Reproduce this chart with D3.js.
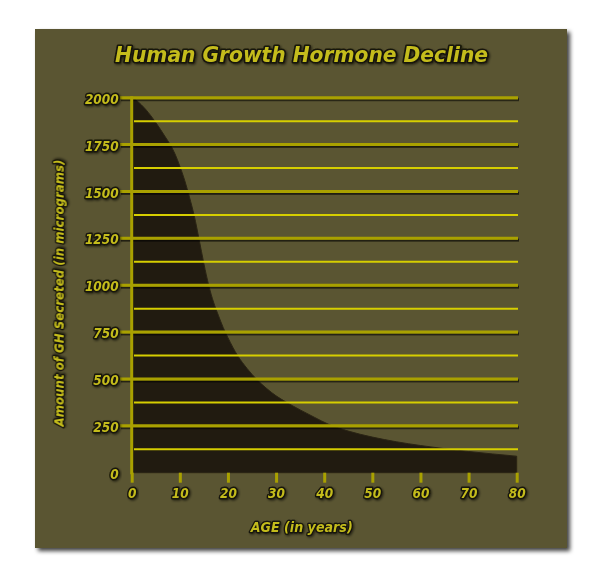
<!DOCTYPE html>
<html><head><meta charset="utf-8">
<script src="https://cdn.jsdelivr.net/npm/d3@7"></script>
<style>
html,body{margin:0;padding:0;background:#fff;}
svg{display:block;}
</style></head>
<body>
<script>
// ---- data ----
const ages   = [0, 1, 2, 3, 4, 5, 6, 7, 8, 9, 10, 11, 12, 13, 14, 15, 16, 17, 18, 19, 20, 22, 24, 26, 28, 30, 32, 35, 38, 41, 45, 50, 55, 60, 65, 70, 75, 80];
const ghVals = [2000, 1985, 1962, 1935, 1903, 1868, 1830, 1790, 1750, 1700, 1635, 1560, 1470, 1370, 1245, 1115, 1000, 910, 840, 775, 720, 625, 555, 497, 450, 410, 378, 335, 295, 257, 222, 190, 165, 145, 128, 113, 100, 88];
const xTicks = [0, 10, 20, 30, 40, 50, 60, 70, 80];
const yMajorTicks = [0, 250, 500, 750, 1000, 1250, 1500, 1750, 2000];
const yMinorTicks = [125, 375, 625, 875, 1125, 1375, 1625, 1875];
const titleText = "Human Growth Hormone Decline";
const xTitle = "AGE (in years)";
const yTitle = "Amount of GH Secreted (in micrograms)";

const W = 600, H = 581;
const svg = d3.select("body").append("svg").attr("width", W).attr("height", H);
const defs = svg.append("defs");
const ps = defs.append("filter").attr("id","panelShadow").attr("x","-5%").attr("y","-5%").attr("width","115%").attr("height","115%");
ps.append("feDropShadow").attr("dx",3).attr("dy",3).attr("stdDeviation",2).attr("flood-color","#000").attr("flood-opacity",0.75);
const ts = defs.append("filter").attr("id","txtShadow").attr("x","-10%").attr("y","-30%").attr("width","130%").attr("height","170%");
ts.append("feDropShadow").attr("dx",1.2).attr("dy",1.2).attr("stdDeviation",0.8).attr("flood-color","#000").attr("flood-opacity",0.6);
const ls = defs.append("filter").attr("id","lineShadow").attr("x","-5%").attr("y","-200%").attr("width","110%").attr("height","500%");
ls.append("feDropShadow").attr("dx",1).attr("dy",1.8).attr("stdDeviation",0.7).attr("flood-color","#000").attr("flood-opacity",0.65);

// panel
svg.append("rect").attr("x",35).attr("y",29).attr("width",532).attr("height",519)
  .attr("fill","#5a5532").attr("filter","url(#panelShadow)");

const x = d3.scaleLinear().domain([0,80]).range([131.7,516.7]);
const y = d3.scaleLinear().domain([0,2000]).range([472.7,97.7]);

const data = ages.map((a,i)=>({a, v: ghVals[i]}));

// area
const area = d3.area().x(d=>x(d.a)).y0(y(0)).y1(d=>y(d.v)).curve(d3.curveMonotoneX);
svg.append("path").datum(data).attr("d",area).attr("fill","#211b10")
  .attr("stroke","#2a2414").attr("stroke-width",1);

const font = "'DejaVu Sans Condensed','DejaVu Sans',sans-serif";
const txtFill = "#c4bc1c";
const txtStroke = "#17140a";

// minor gridlines
svg.append("g").selectAll("line").data(yMinorTicks).join("line")
  .attr("x1",134).attr("x2",518).attr("y1",d=>y(d)).attr("y2",d=>y(d))
  .attr("stroke","#d6ce00").attr("stroke-width",2);

// major gridlines (with tick stubs to the left)
svg.append("g").attr("filter","url(#lineShadow)").selectAll("line").data(yMajorTicks.filter(d=>d>0)).join("line")
  .attr("x1",120).attr("x2",518).attr("y1",d=>y(d)).attr("y2",d=>y(d))
  .attr("stroke","#a9a100").attr("stroke-width",3);

// x axis via d3 axis
const xAxis = d3.axisBottom(x).tickValues(xTicks).tickSize(10).tickSizeOuter(0).tickFormat(d3.format("d"));
const gx = svg.append("g").attr("transform",`translate(0,${y(0)})`).call(xAxis);
gx.select(".domain").remove();
gx.selectAll(".tick line").attr("stroke","#a9a100").attr("stroke-width",3);
gx.selectAll(".tick text").attr("y",25).attr("dy",0)
  .attr("font-family",font).attr("font-weight","bold").attr("font-style","italic").attr("font-size",13.5)
  .attr("fill",txtFill).attr("stroke",txtStroke).attr("stroke-width",2.8).attr("paint-order","stroke")
  .attr("stroke-linejoin","round").attr("filter","url(#txtShadow)");

// y axis via d3 axis
const yAxis = d3.axisLeft(y).tickValues(yMajorTicks).tickSize(0).tickPadding(12).tickFormat(d3.format("d"));
const gy = svg.append("g").attr("transform",`translate(${x(0)},0)`).call(yAxis);
gy.select(".domain").remove();
gy.selectAll(".tick text").attr("dy","0.42em").attr("x",-13)
  .attr("font-family",font).attr("font-weight","bold").attr("font-style","italic").attr("font-size",13.5)
  .attr("fill",txtFill).attr("stroke",txtStroke).attr("stroke-width",2.8).attr("paint-order","stroke")
  .attr("stroke-linejoin","round").attr("filter","url(#txtShadow)");

// axis lines
svg.append("line").attr("x1",120).attr("x2",518).attr("y1",y(0)).attr("y2",y(0))
  .attr("stroke","#a9a100").attr("stroke-width",3).attr("filter","url(#lineShadow)");
svg.append("line").attr("x1",x(0)).attr("x2",x(0)).attr("y1",y(2000)-1.5).attr("y2",y(0)+1.5)
  .attr("stroke","#a9a100").attr("stroke-width",3);

function styledText(sel){
  return sel.attr("font-family",font).attr("font-weight","bold").attr("font-style","italic")
    .attr("fill",txtFill).attr("stroke",txtStroke).attr("paint-order","stroke")
    .attr("stroke-linejoin","round").attr("filter","url(#txtShadow)");
}

// title
styledText(svg.append("text").attr("x",301.5).attr("y",61.5).attr("text-anchor","middle")
  .attr("font-size",22).attr("stroke-width",3.2)
  .attr("textLength",373).attr("lengthAdjust","spacingAndGlyphs").text(titleText));

// x title
styledText(svg.append("text").attr("x",301.7).attr("y",531.5).attr("text-anchor","middle")
  .attr("font-size",14.5).attr("stroke-width",2.6)
  .attr("textLength",102).attr("lengthAdjust","spacingAndGlyphs").text(xTitle));

// y title
styledText(svg.append("text").attr("transform","translate(63.5,293) rotate(-90)").attr("text-anchor","middle")
  .attr("font-size",12).attr("stroke-width",2.4)
  .attr("textLength",267).attr("lengthAdjust","spacingAndGlyphs").text(yTitle));
</script>
</body></html>
